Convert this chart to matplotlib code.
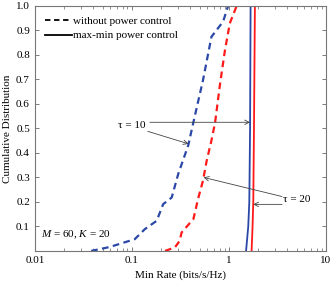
import matplotlib
matplotlib.use('Agg')
import matplotlib.pyplot as plt
import numpy as np

plt.rcParams['font.family'] = ['Liberation Serif', 'DejaVu Serif']
plt.rcParams['mathtext.fontset'] = 'custom'
plt.rcParams['mathtext.rm'] = 'Liberation Serif'
plt.rcParams['mathtext.it'] = 'Liberation Serif:italic'
plt.rcParams['font.size'] = 8

# CDF values (y) shared by the curves, rates
# tau = 10, without power control
noPc10_y = [0.0, 0.016, 0.048, 0.089, 0.123, 0.191, 0.218, 0.314, 0.43, 0.525, 0.697, 0.874, 0.936, 1.0]
noPc10_x = [0.038, 0.059, 0.107, 0.136, 0.18, 0.21, 0.257, 0.30, 0.38, 0.43, 0.54, 0.66, 0.87, 0.98]
# tau = 20, without power control
noPc20_y = [0.0, 0.014, 0.041, 0.075, 0.116, 0.13, 0.212, 0.287, 0.369, 0.451, 0.525, 0.683, 0.82, 0.929, 1.0]
noPc20_x = [0.219, 0.277, 0.31, 0.325, 0.40, 0.43, 0.48, 0.54, 0.59, 0.66, 0.72, 0.81, 0.91, 1.02, 1.2]
# max-min power control
maxMin10_y = [0.0, 0.1, 0.2, 0.5, 1.0]
maxMin10_x = [1.50, 1.58, 1.62, 1.65, 1.67]
maxMin20_y = [0.0, 0.1, 0.2, 0.5, 1.0]
maxMin20_x = [1.71, 1.75, 1.78, 1.81, 1.85]

blue = '#2b48a6'
red = '#ff1a1a'

fig = plt.figure(figsize=(3.32, 2.81), dpi=100)
ax = fig.add_axes([0.105, 0.107, 0.877, 0.872])

ax.plot(noPc10_x, noPc10_y, '--', color=blue, lw=1.6, dashes=(3, 2))
ax.plot(noPc20_x, noPc20_y, '--', color=red, lw=1.6, dashes=(3, 2))
ax.plot(maxMin10_x, maxMin10_y, '-', color=blue, lw=1.3)
ax.plot(maxMin20_x, maxMin20_y, '-', color=red, lw=1.3)

# legend with black proxies
ax.plot([], [], '--', color='black', lw=1.3, dashes=(3, 2), label='without power control')
ax.plot([], [], '-', color='black', lw=1.3, label='max-min power control')
leg = ax.legend(loc='upper left', frameon=False, handlelength=2.4, handletextpad=0.1,
                labelspacing=0.45, borderaxespad=0.5, fontsize=8)

ax.set_xscale('log')
ax.set_xlim(0.01, 10)
ax.set_ylim(0, 1)
ax.set_yticks(np.arange(0.1, 1.01, 0.1))
ax.set_yticklabels(['%.1f' % v for v in np.arange(0.1, 1.01, 0.1)])
ax.set_xticks([0.01, 0.1, 1, 10])
ax.set_xticklabels(['0.01', '0.1', '1', '10'])
ax.tick_params(which='both', direction='in', top=True, right=True, colors='#666666',
               labelcolor='black', labelsize=8)
ax.tick_params(which='major', length=3, width=0.6)
ax.tick_params(which='minor', length=2, width=0.5)
for s in ax.spines.values():
    s.set_color('#777777')
    s.set_linewidth(0.8)

ax.set_xlabel('Min Rate (bits/s/Hz)', fontsize=8, labelpad=4)
ax.set_ylabel('Cumulative Distribution', fontsize=8, labelpad=3)

arrow = dict(arrowstyle='->', color='#444444', lw=0.6, shrinkA=0, shrinkB=0)

# tau = 10 annotations
ax.text(0.333, 0.512, 'τ = 10', transform=ax.transAxes, ha='center', va='center', fontsize=8)
ax.annotate('', xy=(np.interp(0.525, maxMin10_y, maxMin10_x), 0.525), xycoords='data',
            xytext=(0.395, 0.525), textcoords='axes fraction', arrowprops=arrow)
ax.annotate('', xy=(np.interp(0.437, noPc10_y, noPc10_x), 0.437), xycoords='data',
            xytext=(0.388, 0.488), textcoords='axes fraction', arrowprops=arrow)

# tau = 20 annotations
ax.text(0.90, 0.209, 'τ = 20', transform=ax.transAxes, ha='center', va='center', fontsize=8)
ax.annotate('', xy=(np.interp(0.30, noPc20_y, noPc20_x), 0.30), xycoords='data',
            xytext=(0.849, 0.222), textcoords='axes fraction', arrowprops=arrow)
ax.annotate('', xy=(np.interp(0.19, maxMin20_y, maxMin20_x), 0.19), xycoords='data',
            xytext=(0.849, 0.19), textcoords='axes fraction', arrowprops=arrow)

ax.text(0.02, 0.065, '$M$ = 60, $K$ = 20', transform=ax.transAxes, ha='left', va='center',
        fontsize=8)

fig.savefig('out.png', dpi=100)
